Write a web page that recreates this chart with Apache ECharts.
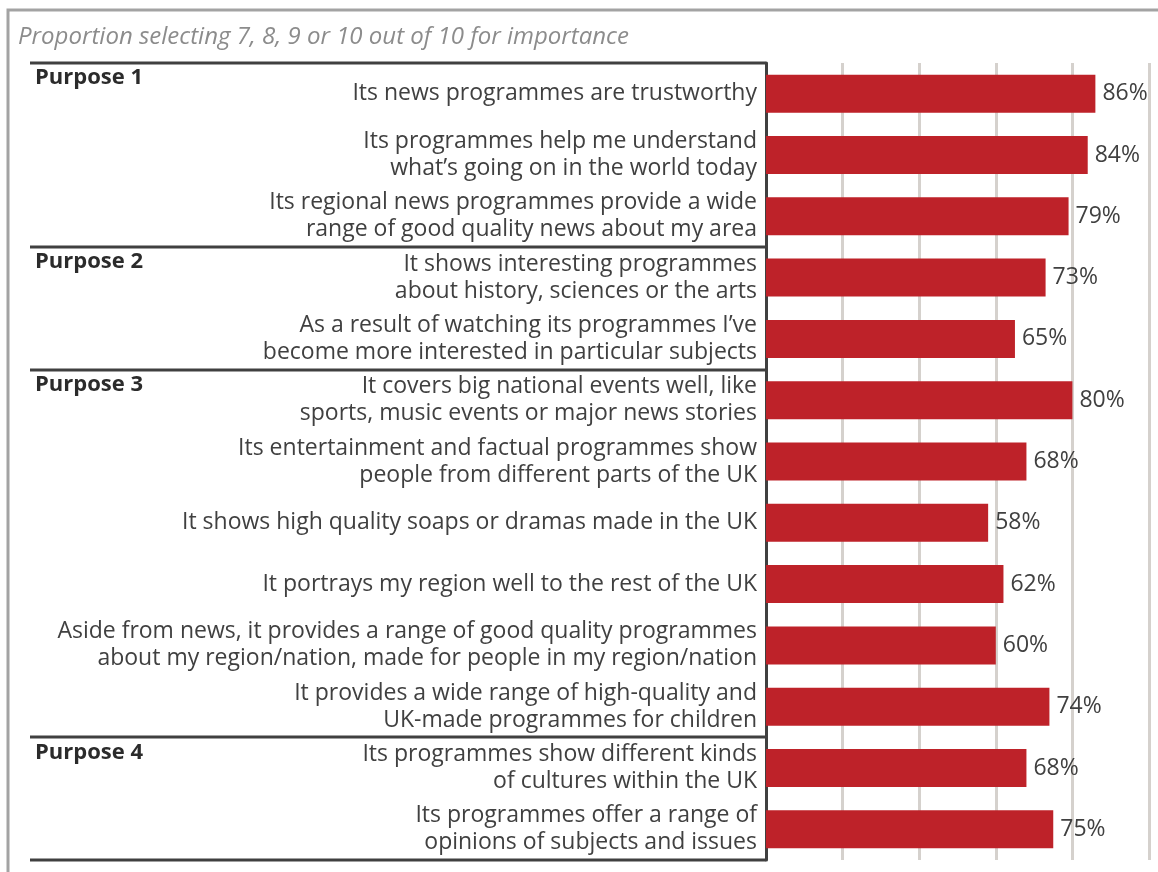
<!DOCTYPE html>
<html>
<head>
<meta charset="utf-8">
<script src="https://cdn.jsdelivr.net/npm/echarts@6/dist/echarts.min.js"></script>
<style>
  html, body { margin: 0; padding: 0; background: #ffffff; }
  #chart { width: 1158px; height: 872px; }
</style>
</head>
<body>
<div id="chart"></div>
<script>
// Statements, top to bottom
const statements = [
  'Its news programmes are trustworthy',
  'Its programmes help me understand\nwhat\u2019s going on in the world today',
  'Its regional news programmes provide a wide\nrange of good quality news about my area',
  'It shows interesting programmes\nabout history, sciences or the arts',
  'As a result of watching its programmes I\u2019ve\nbecome more interested in particular subjects',
  'It covers big national events well, like\nsports, music events or major news stories',
  'Its entertainment and factual programmes show\npeople from different parts of the UK',
  'It shows high quality soaps or dramas made in the UK',
  'It portrays my region well to the rest of the UK',
  'Aside from news, it provides a range of good quality programmes\nabout my region/nation, made for people in my region/nation',
  'It provides a wide range of high-quality and\nUK-made programmes for children',
  'Its programmes show different kinds\nof cultures within the UK',
  'Its programmes offer a range of\nopinions of subjects and issues'
];

// Percentage rating 7-10 out of 10
const importance = [86, 84, 79, 73, 65, 80, 68, 58, 62, 60, 74, 68, 75];

// Purpose groups and the index of the first statement in each
const groupNames = ['Purpose 1', 'Purpose 2', 'Purpose 3', 'Purpose 4'];
const groupStarts = [0, 3, 5, 11];

const subtitle = 'Proportion selecting 7, 8, 9 or 10 out of 10 for importance';

const FONT = '"Open Sans", Lato, sans-serif';
const TEXT = '#404040';
const RULE = '#404040';

const chart = echarts.init(document.getElementById('chart'), null, { renderer: 'canvas' });

chart.setOption({
  animation: false,
  title: {
    text: subtitle,
    left: 13,
    top: 20,
    textStyle: { fontFamily: FONT, fontStyle: 'italic', fontWeight: 'normal', fontSize: 24, color: '#8c8c8c' }
  },
  grid: { left: 766, right: 9, top: 63, bottom: 12, containLabel: false },
  xAxis: {
    type: 'value',
    min: 0,
    max: 100,
    interval: 20,
    axisLabel: { show: false },
    axisTick: { show: false },
    axisLine: { show: false },
    splitLine: { show: true, lineStyle: { color: '#d5d1cd', width: 3 } }
  },
  yAxis: {
    type: 'category',
    inverse: true,
    data: statements,
    axisTick: { show: false },
    axisLine: { show: true, lineStyle: { color: RULE, width: 3 } },
    axisLabel: {
      fontFamily: FONT,
      fontSize: 23,
      lineHeight: 27,
      color: TEXT,
      margin: 9,
      align: 'right'
    }
  },
  series: [{
    type: 'bar',
    data: importance,
    barCategoryGap: '38%',
    itemStyle: { color: '#be2229' },
    label: {
      show: true,
      position: 'right',
      distance: 7,
      formatter: '{c}%',
      fontFamily: FONT,
      fontSize: 23,
      color: TEXT
    }
  }]
});

// Group separators and purpose headings, placed on the category band edges
function bandEdge(i) {
  const c0 = chart.convertToPixel({ yAxisIndex: 0 }, 0);
  const c1 = chart.convertToPixel({ yAxisIndex: 0 }, 1);
  const step = c1 - c0;
  return c0 + step * i - step / 2;
}

const axisX = chart.convertToPixel({ xAxisIndex: 0 }, 0);
const edges = groupStarts.concat([statements.length]);
const graphics = [
  {
    type: 'rect',
    shape: { x: 8, y: 10, width: 1400, height: 1000 },
    style: { fill: 'none', stroke: '#a3a3a3', lineWidth: 3 },
    silent: true,
    z: 0
  }
];
edges.forEach(function (k) {
  const y = Math.round(bandEdge(k));
  graphics.push({
    type: 'line',
    shape: { x1: 30, y1: y, x2: axisX, y2: y },
    style: { stroke: RULE, lineWidth: 3 },
    silent: true,
    z: 10
  });
});
groupNames.forEach(function (name, g) {
  const y = bandEdge(groupStarts[g]);
  graphics.push({
    type: 'text',
    x: 35,
    y: y + 4,
    style: {
      text: name,
      fontFamily: FONT,
      fontSize: 22,
      fontWeight: 'bold',
      fill: '#2b2b2b',
      textVerticalAlign: 'top'
    },
    silent: true,
    z: 10
  });
});
chart.setOption({ graphic: graphics });
</script>
</body>
</html>
